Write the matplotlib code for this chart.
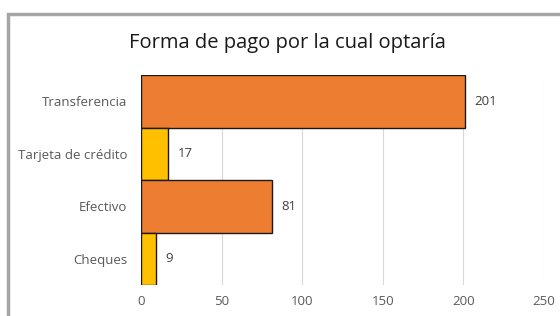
import matplotlib.pyplot as plt
from matplotlib.patches import Rectangle

categories = ["Transferencia", "Tarjeta de crédito", "Efectivo", "Cheques"]
values = [201, 17, 81, 9]
colors = ["#ED7D31", "#FFC000", "#ED7D31", "#FFC000"]
xticks = [0, 50, 100, 150, 200, 250]

plt.rcParams['font.family'] = ['Open Sans', 'DejaVu Sans']

fig = plt.figure(figsize=(5.6, 3.16), dpi=100)
W, H = 560, 316

# chart frame (screenshot border)
fig.patches.append(Rectangle((8 / W, -0.1), 1, 1.1 - 14 / H, transform=fig.transFigure,
                             facecolor="white", edgecolor="#A6A6A6", linewidth=2.5, zorder=0))

ax = fig.add_axes([141 / W, 1 - 285 / H, (544 - 141) / W, (285 - 75) / H])
ax.set_zorder(2)
ax.set_facecolor("none")
y = list(range(len(categories)))
ax.barh(y, values, height=1.0, color=colors, edgecolor="#1a1a1a", linewidth=1.0, zorder=3)
for yi, v in zip(y, values):
    ax.text(v + 6, yi, str(v), va="center", ha="left", fontsize=9.5, color="#404040")

ax.set_xlim(0, 250)
ax.set_ylim(len(categories) - 0.5, -0.5)
ax.set_yticks(y)
ax.set_yticklabels(categories, fontsize=9.5, color="#595959")
ax.set_xticks(xticks)
ax.set_xticklabels([str(t) for t in xticks], fontsize=9.5, color="#595959")
ax.tick_params(length=0, pad=10, axis="y")
ax.tick_params(length=0, pad=7, axis="x")
ax.grid(axis="x", color="#D9D9D9", linewidth=0.8, zorder=0)
for s in ax.spines.values():
    s.set_visible(False)

fig.text(287 / W, 1 - 43 / H, "Forma de pago por la cual optaría", ha="center", va="center",
         fontsize=14.5, color="#1a1a1a")

fig.savefig("out.png", dpi=100)
